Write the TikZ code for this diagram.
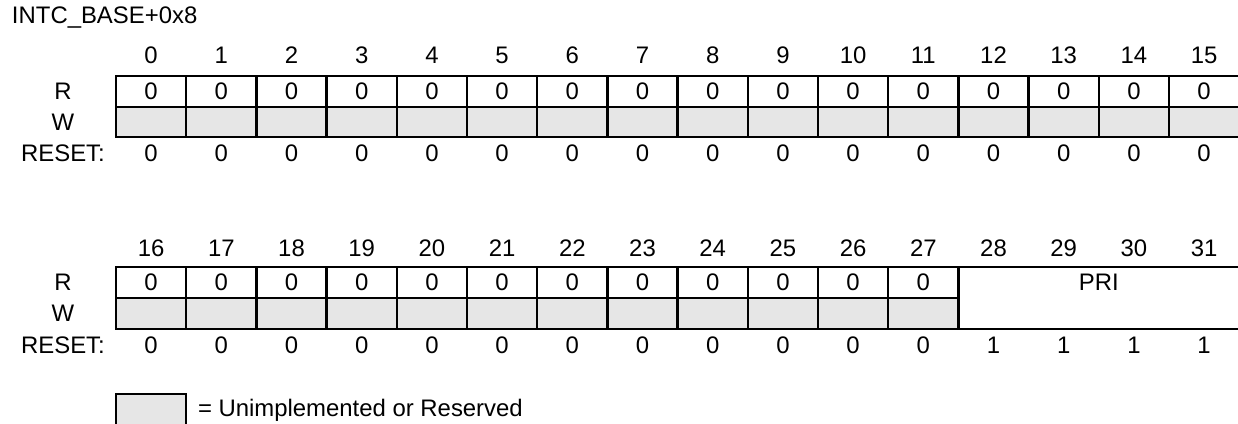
\documentclass[tikz,border=0pt]{standalone}
\usepackage{fontspec}
\setmainfont{Liberation Sans}
\definecolor{resv}{RGB}{230,230,230}
\begin{document}
\begin{tikzpicture}[x=1pt,y=-1pt,
  txt/.style={inner sep=0pt,outer sep=0pt,font=\fontsize{23.9}{29}\selectfont},
  cellbox/.style={txt,draw=black,line width=2.4pt,minimum width=70.2pt,minimum height=30.5pt},
  rcell/.style={cellbox,fill=white},
  wcell/.style={cellbox,fill=resv},
  lbl/.style={txt}]
\useasboundingbox (0,0) rectangle (1238,423);
\fill[white] (0,0) rectangle (1238,423);
\node[lbl,anchor=base west] (title) at (12,23.5) {INTC\_BASE+0x8};
% row labels
\node[lbl] (R1) at (63,91.5) {R};
\node[lbl] (W1) at (63,122) {W};
\node[lbl] (S1) at (63,153) {RESET:};
\node[lbl] (R2) at (63,282.5) {R};
\node[lbl] (W2) at (63,313.5) {W};
\node[lbl] (S2) at (63,345) {RESET:};
% register 1: bits 0..15
\foreach \i in {0,...,15} {
  \pgfmathsetmacro\cx{116+70.2*(\i+0.5)}
  \node[lbl] (n\i) at (\cx,55) {\i};
  \node[rcell] (r\i) at (\cx,91.5) {0};
  \node[wcell] (w\i) at (\cx,122) {};
  \node[lbl] (s\i) at (\cx,153) {0};
}
% register 2: bits 16..27
\foreach \i in {16,...,27} {
  \pgfmathsetmacro\cx{116+70.2*(\i-16+0.5)}
  \node[lbl] (n\i) at (\cx,248) {\i};
  \node[rcell] (r\i) at (\cx,282.5) {0};
  \node[wcell] (w\i) at (\cx,313.5) {};
  \node[lbl] (s\i) at (\cx,345) {0};
}
% bits 28..31
\foreach \i in {28,...,31} {
  \pgfmathsetmacro\cx{116+70.2*(\i-16+0.5)}
  \node[lbl] (n\i) at (\cx,248) {\i};
  \node[lbl] (s\i) at (\cx,345) {1};
}
\node[cellbox,fill=white,minimum width=280.8pt,minimum height=62pt] (pri) at ({116+70.2*14},298) {};
\node[lbl] (pritxt) at ({116+70.2*14},282.5) {PRI};
% legend
\node[wcell] (leg) at (151.1,409.5) {};
\node[lbl,anchor=base west] (legtxt) at (198,416.5) {= Unimplemented or Reserved};
\end{tikzpicture}
\end{document}
